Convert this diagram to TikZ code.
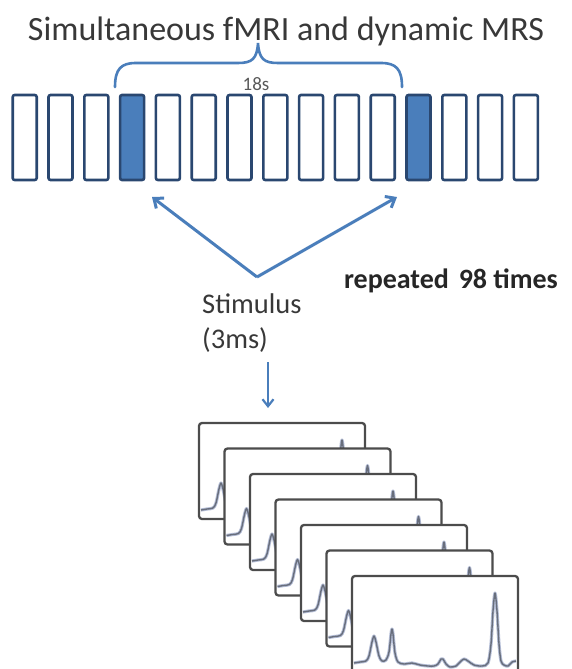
\documentclass[tikz,border=0pt]{standalone}
\usepackage{fontspec}
\setmainfont{Carlito}
\usetikzlibrary{arrows.meta}
\definecolor{accent}{HTML}{4A7EBB}
\definecolor{slotedge}{HTML}{2A4770}
\definecolor{framegray}{HTML}{4C4C4C}
\definecolor{specline}{HTML}{686E7C}
\definecolor{spechalo}{HTML}{B4BDD6}
\definecolor{txtgray}{HTML}{383838}
\tikzset{
  slot/.style={draw=slotedge, line width=2.6pt, rounded corners=2pt,
    minimum width=24pt, minimum height=85pt, inner sep=0pt, fill=white},
  slotfill/.style={slot, fill=accent},
  bigarrow/.style={draw=accent, line width=3pt,
    -{Straight Barb[length=8pt,width=13pt]}},
  smallarrow/.style={draw=accent, line width=2.2pt,
    -{Straight Barb[length=7pt,width=11pt]}},
  bracepath/.style={draw=accent, line width=2.6pt, line cap=round},
  label/.style={text=txtgray, inner sep=0pt},
  specframe/.style={draw=framegray, line width=2.3pt, rounded corners=3pt, fill=white},
  spechalo/.style={draw=spechalo, line width=3.2pt, line join=round},
  spec/.style={draw=specline, line width=1.4pt, line join=round},
}
\newcommand{\spectrum}{%
  plot[smooth, tension=0.5] coordinates {(2,87) (8,86) (14,85) (17,80) (20,66)
    (22,60) (24,66) (27,80) (30,85) (34,84) (37,76) (39,58) (40,53) (41,58)
    (43,77) (46,86) (52,88) (60,87) (68,89) (76,90) (82,90) (86,88) (89,83)
    (91,83) (94,88) (98,91) (104,90) (108,86) (112,83) (116,85) (122,89)
    (130,90) (136,87) (139,68) (141,35) (143,17) (145,35) (147,68) (149,85)
    (152,89) (156,90) (160,86) (164,85)}}
\begin{document}
\begin{tikzpicture}[x=1pt, y=-1pt]
\useasboundingbox (0,0) rectangle (571,669);

% title
\node[label, font=\fontsize{34}{38}\selectfont] (title) at (286,31)
  {Simultaneous fMRI and dynamic MRS};

% row of acquisition slots
\foreach \i in {0,...,14} {
  \pgfmathsetmacro{\cx}{24.7+\i*35.8}
  \ifnum\i=3
    \node[slotfill] (s\i) at (\cx,137.5) {};
  \else\ifnum\i=11
    \node[slotfill] (s\i) at (\cx,137.5) {};
  \else
    \node[slot] (s\i) at (\cx,137.5) {};
  \fi\fi
}

% brace over one 18 s period
\draw[bracepath] (115,87) .. controls (115,69) and (121,63) .. (136,63)
  -- (238,63) .. controls (252,63) and (257,59) .. (258,43)
  .. controls (259,59) and (264,63) .. (278,63)
  -- (381,63) .. controls (396,63) and (402,69) .. (402,87);
\node[label, text=black!65, font=\fontsize{19}{21}\selectfont] (period) at (256,84) {18s};

% stimulus arrows
\coordinate (apex) at (257,277);
\coordinate (tipL) at (152,197);
\coordinate (tipR) at (397,197);
\draw[bigarrow] (apex) -- (tipL);
\draw[bigarrow] (apex) -- (tipR);

\node[label, font=\fontsize{28.5}{35}\selectfont, anchor=north west, align=left]
  (stim) at (202,294) {Stimulus\\(3ms)};
\node[label, text=black!85, font=\bfseries\fontsize{28}{32}\selectfont]
  (rep) at (451,281) {repeated\hspace{0.35em}98 times};

\coordinate (down1) at (268,362);
\coordinate (down2) at (268,408);
\draw[smallarrow] (down1) -- (down2);

% stack of spectra
\foreach \k in {0,...,6} {
  \begin{scope}[shift={(199+25.5*\k,423+25.5*\k)}]
    \path[specframe] (0,0) rectangle (166,96);
    \begin{scope}
      \clip (1.2,1.2) rectangle (164.8,94.8);
      \draw[spechalo] \spectrum;
      \draw[spec] \spectrum;
    \end{scope}
  \end{scope}
}
\end{tikzpicture}
\end{document}
